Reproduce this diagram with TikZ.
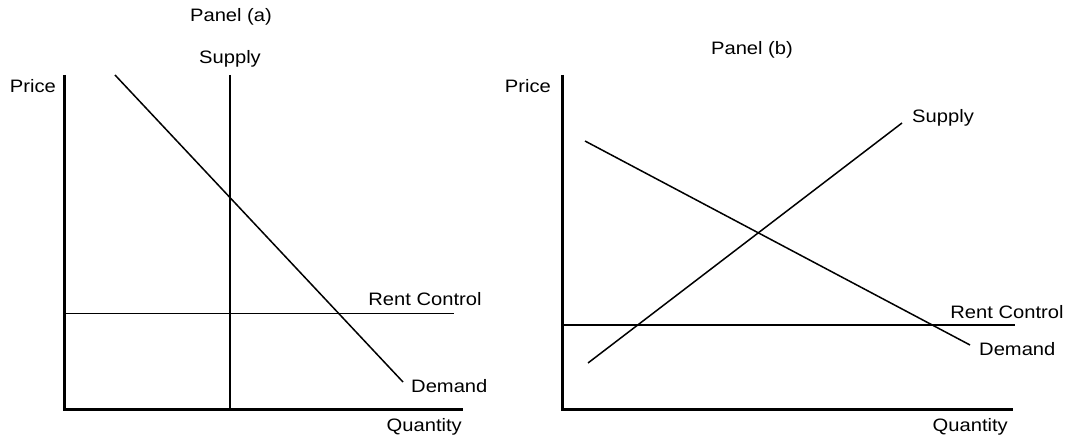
\documentclass[tikz,border=0pt]{standalone}
\usepackage{fontspec}
\setmainfont[FakeStretch=1.12]{Liberation Sans}
\begin{document}
\begin{tikzpicture}[x=1pt,y=-1pt,
  lbl/.style={inner sep=0pt,font=\fontsize{18}{20}\selectfont},
  axis/.style={line width=3pt},
  curve/.style={line width=1.5pt},
  thin/.style={line width=1pt}]
\useasboundingbox (0,0) rectangle (1070,441);
% Panel (a)
\node[lbl] (ta) at (231,17) {Panel (a)};
\node[lbl] (sa) at (230,59) {Supply};
\node[lbl,anchor=east] (pa) at (56,86) {Price};
\node[lbl,anchor=east] (qa) at (462,427) {Quantity};
\node[lbl] (ra) at (425,299) {Rent Control};
\node[lbl,anchor=west] (da) at (411,386) {Demand};
\coordinate (oa) at (64,409);
\coordinate (ya) at (64,75);
\coordinate (xa) at (463,409);
\coordinate (sa1) at (230,75);
\coordinate (sa2) at (230,409);
\coordinate (da1) at (115,75);
\coordinate (da2) at (403,382);
\coordinate (ra1) at (64,313);
\coordinate (ra2) at (454,313);
\draw[thin] (ra1) -- (ra2);
\draw[curve] (sa1) -- (sa2);
\draw[curve] (da1) -- (da2);
\draw[axis] (ya) -- (oa) -- (xa);
% Panel (b)
\node[lbl] (tb) at (752,50) {Panel (b)};
\node[lbl,anchor=east] (pb) at (551,86) {Price};
\node[lbl,anchor=west] (sb) at (912,118) {Supply};
\node[lbl,anchor=east] (qb) at (1008,427) {Quantity};
\node[lbl] (rb) at (1007,312) {Rent Control};
\node[lbl,anchor=west] (db) at (979,349) {Demand};
\coordinate (ob) at (562,409);
\coordinate (yb) at (562,75);
\coordinate (xb) at (1013,409);
\coordinate (db1) at (585,141);
\coordinate (db2) at (970,345);
\coordinate (sb1) at (588,363);
\coordinate (sb2) at (902,123);
\coordinate (rb1) at (562,325);
\coordinate (rb2) at (1015,325);
\draw[line width=2pt] (rb1) -- (rb2);
\draw[curve] (db1) -- (db2);
\draw[curve] (sb1) -- (sb2);
\draw[axis] (yb) -- (ob) -- (xb);
\end{tikzpicture}
\end{document}
